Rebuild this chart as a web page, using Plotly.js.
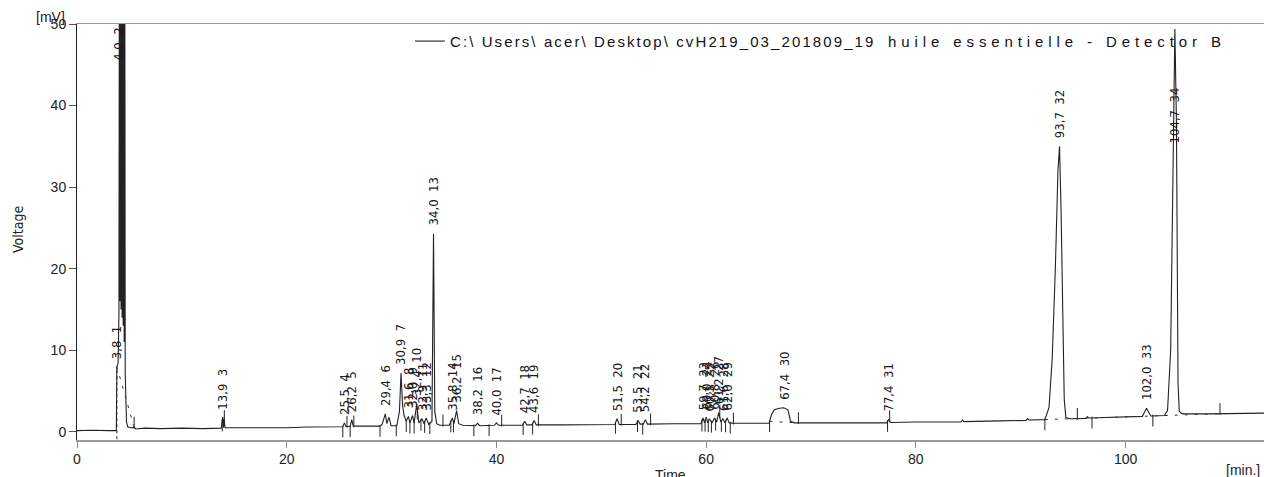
<!DOCTYPE html>
<html>
<head>
<meta charset="utf-8">
<script src="https://cdn.plot.ly/plotly-3.0.1.min.js"></script>
<style>
  html, body { margin: 0; padding: 0; background: #fff; }
  #chart { width: 1264px; height: 477px; }
  #chart .legendtext { letter-spacing: 2.1px; }
  #chart .legend .scrollbox { clip-path: none !important; }
</style>
</head>
<body>
<div id="chart"></div>
<script>
// Detector B signal, [time in min, voltage in mV]
const chromatogram = [
  [0, 0.15], [1.5, 0.2], [3.0, 0.15], [3.75, 0.15],
  [3.8, 8.0], [3.92, 8.4], [4.0, 14.5],
  [4.05, 70], [4.1, 16], [4.15, 70], [4.2, 15], [4.25, 70], [4.3, 14], [4.35, 70],
  [4.4, 13], [4.45, 70], [4.5, 11], [4.55, 70],
  [4.6, 7.2], [4.65, 3.5], [4.72, 1.2], [4.85, 0.6], [5.2, 0.5], [5.45, 0.55], [5.6, 0.35],
  [6.5, 0.45], [8, 0.4], [10, 0.45], [12, 0.4], [13.75, 0.45],
  [13.9, 1.8], [13.97, 0.5], [14.03, 1.6], [14.12, 0.5],
  [16, 0.5], [18, 0.55], [20, 0.5], [22, 0.6], [24, 0.6], [25.35, 0.62],
  [25.5, 1.1], [25.65, 0.65], [26.05, 0.65], [26.2, 1.5], [26.35, 0.7],
  [28.9, 0.7], [29.1, 0.9], [29.4, 2.2], [29.55, 1.0], [29.75, 1.8], [29.95, 0.75],
  [30.5, 0.75], [30.75, 2.5], [30.9, 7.2], [31.05, 3.2], [31.2, 2.0], [31.4, 1.3],
  [31.6, 1.9], [31.75, 1.1], [32.0, 2.0], [32.15, 1.1], [32.4, 3.4], [32.6, 1.1],
  [32.9, 1.6], [33.1, 1.0], [33.3, 1.7], [33.55, 0.9], [33.85, 1.3],
  [34.0, 24.3], [34.12, 2.5], [34.3, 1.0], [34.6, 0.8], [35.5, 0.8],
  [35.8, 1.7], [35.95, 1.0], [36.2, 2.6], [36.4, 1.0], [36.8, 0.8],
  [38.0, 0.75], [38.2, 1.05], [38.4, 0.75], [39.8, 0.8], [40.0, 1.1], [40.2, 0.8],
  [42.5, 0.8], [42.7, 1.3], [42.9, 0.85], [43.4, 0.85], [43.6, 1.4], [43.8, 0.85],
  [46, 0.85], [48, 0.9], [51.3, 0.9], [51.5, 1.6], [51.7, 0.9],
  [53.3, 0.9], [53.5, 1.4], [53.7, 0.95], [54.0, 0.95], [54.2, 1.5], [54.4, 0.95],
  [57, 1.0], [59.5, 1.0],
  [59.7, 1.7], [59.85, 1.1], [60.0, 1.8], [60.15, 1.1], [60.3, 1.6], [60.55, 1.1],
  [60.8, 1.7], [61.0, 1.2], [61.2, 2.4], [61.4, 1.2], [61.6, 1.6], [61.8, 1.1],
  [62.0, 1.7], [62.2, 1.1], [62.6, 1.05],
  [64, 1.05], [66.0, 1.05], [66.2, 2.0], [66.5, 2.7], [67.0, 2.9], [67.4, 2.95],
  [67.8, 2.7], [68.05, 1.3], [68.4, 1.1],
  [70, 1.1], [72, 1.1], [75, 1.1], [77.2, 1.1], [77.4, 1.5], [77.6, 1.15],
  [80, 1.2], [84.3, 1.2], [84.45, 1.45], [84.6, 1.25], [88, 1.35],
  [90.5, 1.4], [90.65, 1.6], [90.8, 1.45],
  [92.3, 1.5], [92.7, 3], [93.0, 9], [93.3, 20], [93.55, 32], [93.7, 35.0],
  [93.85, 27], [94.0, 12], [94.15, 4], [94.3, 1.8], [94.6, 1.6],
  [96.2, 1.65], [96.35, 1.85], [96.5, 1.7], [100, 1.8],
  [101.6, 1.9], [102.0, 2.9], [102.4, 1.95],
  [103.7, 2.0], [104.0, 2.6], [104.3, 10], [104.5, 33], [104.7, 49.4], [104.85, 38],
  [105.0, 6], [105.12, 2.5], [105.4, 2.2],
  [108, 2.2], [110, 2.25], [113.2, 2.3]
];

// Integrated peaks: retention time (min) and peak number
const peakTimes = [3.8, 4.0, 13.9, 25.5, 26.2, 29.4, 30.9, 31.6, 32.0, 32.4, 32.9, 33.3,
  34.0, 35.8, 36.2, 38.2, 40.0, 42.7, 43.6, 51.5, 53.5, 54.2, 59.7, 60.0, 60.3, 60.8,
  61.2, 61.6, 62.0, 67.4, 77.4, 93.7, 102.0, 104.7];
const peakNumbers = [1, 2, 3, 4, 5, 6, 7, 8, 9, 10, 11, 12, 13, 14, 15, 16, 17, 18, 19,
  20, 21, 22, 23, 24, 25, 26, 27, 28, 29, 30, 31, 32, 33, 34];

// Integration markers (peak start / end)
const startMarks = [13.85, 25.35, 26.05, 28.9, 30.45, 31.4, 31.75, 32.15, 32.45, 32.8,
  33.15, 33.65, 35.65, 35.9, 37.85, 39.3, 42.55, 43.45, 51.35, 53.45, 53.95, 59.6, 59.9,
  60.2, 60.5, 60.9, 61.45, 61.85, 62.3, 66.05, 77.3, 92.3, 96.8, 102.6];
const endMarks = [5.45, 14.05, 25.75, 26.4, 34.9, 40.5, 44.0, 51.9, 54.7, 61.3, 62.6,
  68.8, 77.5, 95.4, 109.0];
const baselineSegments = [[3.8, 5.45], [66.05, 68.8], [92.3, 109.0]];

const xTicks = [0, 20, 40, 60, 80, 100];
const yTicks = [0, 10, 20, 30, 40, 50];

const sampleFile = 'C:\\ Users\\ acer\\ Desktop\\ cvH219_03_201809_19';
const sampleName = 'huile essentielle - Detector B';

const time = chromatogram.map(p => p[0]);
const voltage = chromatogram.map(p => p[1]);

function signalAt(t) {
  for (let i = 1; i < time.length; i++) {
    if (t <= time[i]) {
      const f = (t - time[i - 1]) / (time[i] - time[i - 1]);
      return voltage[i - 1] + f * (voltage[i] - voltage[i - 1]);
    }
  }
  return voltage[voltage.length - 1];
}

const INK = '#222';
const NARROW = '"Liberation Sans Narrow", "Arial Narrow", "DejaVu Sans Condensed", "Liberation Sans", sans-serif';
const SANS = '"Liberation Sans", Arial, sans-serif';

// marker tick segments
const mx = [], my = [];
startMarks.forEach(t => { const v = signalAt(t); mx.push(t, t, null); my.push(v + 0.15, v - 1.3, null); });
endMarks.forEach(t => { const v = signalAt(t); mx.push(t, t, null); my.push(v - 0.15, v + 1.3, null); });

// projected baselines under integrated peaks
const bx = [], by = [];
baselineSegments.forEach(s => { bx.push(s[0], s[1], null); by.push(signalAt(s[0]), signalAt(s[1]), null); });

const traces = [
  {
    x: time, y: voltage, type: 'scatter', mode: 'lines',
    name: sampleFile + '\u00a0\u00a0<span style="letter-spacing:4.9px">' + sampleName + '</span>',
    line: { color: INK, width: 1.1 }, hoverinfo: 'skip'
  },
  {
    x: mx, y: my, type: 'scatter', mode: 'lines', showlegend: false,
    line: { color: INK, width: 1 }, hoverinfo: 'skip'
  },
  {
    x: bx, y: by, type: 'scatter', mode: 'lines', showlegend: false,
    line: { color: '#333', width: 1, dash: '3px,7px' }, hoverinfo: 'skip'
  },
  {
    x: [peakTimes[0], peakTimes[0]], y: [-0.9, signalAt(peakTimes[0])],
    type: 'scatter', mode: 'lines', showlegend: false,
    line: { color: INK, width: 1, dash: 'dot' }, hoverinfo: 'skip'
  }
];

// label heights for off-scale / capped peaks
const labelLevelOverride = { 2: 45.3, 34: 35.1 };

const annotations = peakTimes.map((t, i) => {
  const n = peakNumbers[i];
  const level = labelLevelOverride[n] !== undefined ? labelLevelOverride[n] : signalAt(t) + 0.7;
  return {
    x: t, y: level, xref: 'x', yref: 'y',
    text: t.toFixed(1).replace('.', ',') + '\u00a0\u00a0' + n,
    textangle: -90, showarrow: false, xanchor: 'center', yanchor: 'bottom',
    font: { family: NARROW, size: 13, color: '#1a1a1a' }
  };
});

annotations.push(
  { text: 'Voltage', xref: 'paper', yref: 'paper', x: -0.0497, y: 0.505, textangle: -90,
    showarrow: false, xanchor: 'center', yanchor: 'middle', font: { family: NARROW, size: 14, color: INK } },
  { text: '[mV]', xref: 'paper', yref: 'paper', x: -0.0227, y: 1.0168, showarrow: false,
    xanchor: 'center', yanchor: 'middle', font: { family: SANS, size: 14, color: INK } },
  { text: 'Time', xref: 'paper', yref: 'paper', x: 0.5, y: -0.0601, showarrow: false,
    xanchor: 'center', yanchor: 'top', font: { family: SANS, size: 14, color: INK } },
  { text: '[min.]', xref: 'paper', yref: 'paper', x: 0.998, y: -0.0721, showarrow: false,
    xanchor: 'right', yanchor: 'middle', font: { family: SANS, size: 14, color: INK } }
);

const layout = {
  width: 1264, height: 477,
  margin: { l: 77, r: 0, t: 24, b: 37 },
  paper_bgcolor: '#fff', plot_bgcolor: '#fff',
  font: { family: SANS, size: 14, color: INK },
  xaxis: {
    range: [0, 113.2], tickvals: xTicks, ticktext: xTicks.map(String),
    ticks: 'outside', ticklen: 6, tickcolor: '#888', tickwidth: 1,
    showline: true, linecolor: '#999', linewidth: 1.5, mirror: true,
    showgrid: false, zeroline: false, tickfont: { family: SANS, size: 14, color: INK }
  },
  yaxis: {
    range: [-1, 50], tickvals: yTicks, ticktext: yTicks.map(String),
    ticks: 'outside', ticklen: 7, tickcolor: '#555', tickwidth: 1,
    showline: true, linecolor: '#222', linewidth: 1,
    showgrid: false, zeroline: false, tickfont: { family: SANS, size: 14, color: INK }
  },
  showlegend: true,
  legend: {
    x: 0.2805, y: 0.998, xanchor: 'left', yanchor: 'top',
    bgcolor: 'rgba(0,0,0,0)', borderwidth: 0,
    font: { family: SANS, size: 15, color: '#111' }, itemwidth: 30
  },
  annotations: annotations
};

Plotly.newPlot('chart', traces, layout, { displayModeBar: false, staticPlot: true });
</script>
</body>
</html>
